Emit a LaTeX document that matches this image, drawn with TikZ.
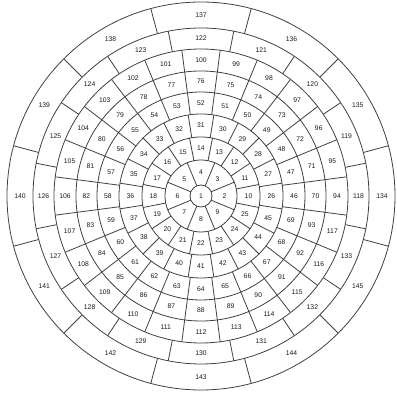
\documentclass[tikz,border=0pt]{standalone}
\usepackage{fontspec}
\setmainfont{Liberation Sans}
\begin{document}
\begin{tikzpicture}[x=1pt,y=1pt,
  ring/.style={draw=black!75,line width=0.8pt},
  lab/.style={font=\fontsize{6.8}{7}\selectfont, text=black!90, inner sep=0pt}]
\useasboundingbox (0,0) rectangle (397,395);
\coordinate (O) at (201,199);
\begin{scope}[shift={(O)}]
  \foreach \r in {11,36,59,82,104,125,147,168,194}
    \draw[ring] (0,0) circle (\r);
  \foreach \ri/\ro/\n/\s in {11/36/8/2, 36/59/16/10, 59/82/20/26, 82/104/24/46,
      104/125/24/70, 125/147/24/94, 147/168/16/118, 168/194/12/134}{
    \pgfmathsetmacro\stp{360/\n}
    \pgfmathsetmacro\rm{(\ri+\ro)/2}
    \foreach \j in {1,...,\n}{
      \pgfmathsetmacro\ang{(\j-0.5)*\stp}
      \draw[ring] (\ang:\ri) -- (\ang:\ro);
      \pgfmathtruncatemacro\num{\s+\j-1}
      \pgfmathsetmacro\angb{(\j-1)*\stp}
      \node[lab] (n\num) at (\angb:\rm) {\num};
    }
  }
  \node[lab] (n1) at (0,0) {1};
\end{scope}
\end{tikzpicture}
\end{document}
